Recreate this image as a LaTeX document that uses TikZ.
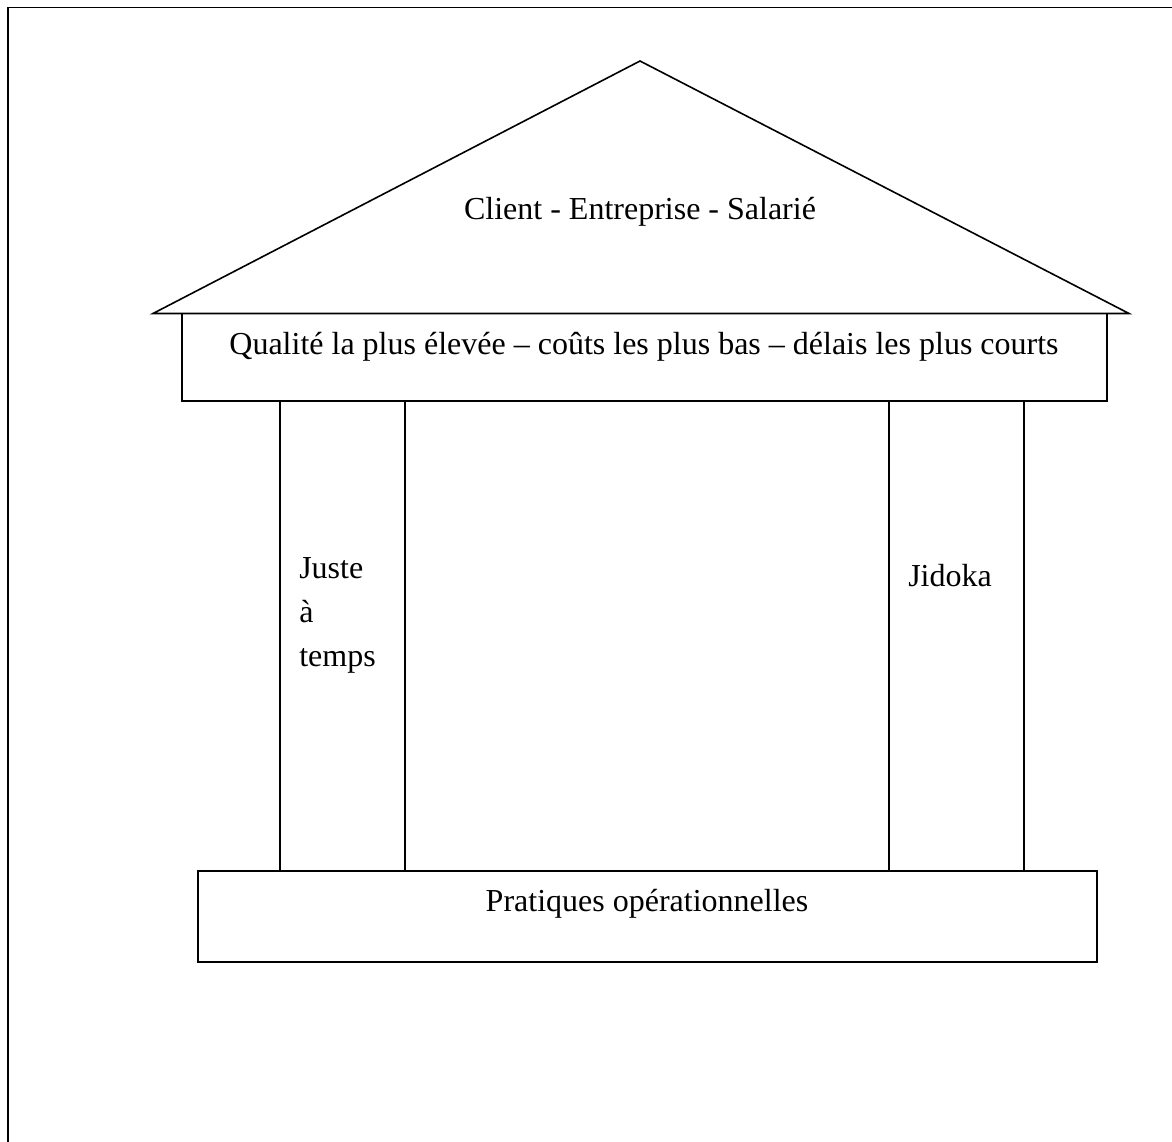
\documentclass[tikz,border=0pt]{standalone}
\usepackage{fontspec}
\setmainfont{Liberation Serif}
\begin{document}
\begin{tikzpicture}[x=0.75pt,y=-0.75pt,
  part/.style={draw,line width=1.2pt,inner sep=0pt,outer sep=0pt,anchor=north west},
  label/.style={font=\fontsize{24}{33}\selectfont,inner sep=0pt}]
\useasboundingbox (0,0) rectangle (1172,1142);
% page frame
\draw[line width=1.4pt] (8,1142) -- (8,7.5) -- (1172,7.5);
% roof
\coordinate (apex) at (640,61);
\coordinate (eaveL) at (153,313.5);
\coordinate (eaveR) at (1129,313.5);
\draw[line width=1.2pt,line join=miter] (eaveL) -- (apex) -- (eaveR) -- cycle;
\node[label] (roof) at (640,212) {Client - Entreprise - Salarié};
% architrave
\node[part,minimum width=693.75pt,minimum height=65.6pt] (beam) at (182,313.5) {};
\node[label] (goals) at (644,347) {Qualité la plus élevée – coûts les plus bas – délais les plus courts};
% pillars
\node[part,minimum width=93.75pt,minimum height=352.5pt] (pillarL) at (280,401) {};
\node[part,minimum width=101.25pt,minimum height=352.5pt] (pillarR) at (889,401) {};
\node[label,anchor=west,align=left] (jat) at (299,615) {Juste\\à\\temps};
\node[label,anchor=west] (jidoka) at (908,576) {Jidoka};
% base
\node[part,minimum width=674.25pt,minimum height=68.25pt] (base) at (198,871) {};
\node[label] (practices) at (647,904) {Pratiques opérationnelles};
\end{tikzpicture}
\end{document}
